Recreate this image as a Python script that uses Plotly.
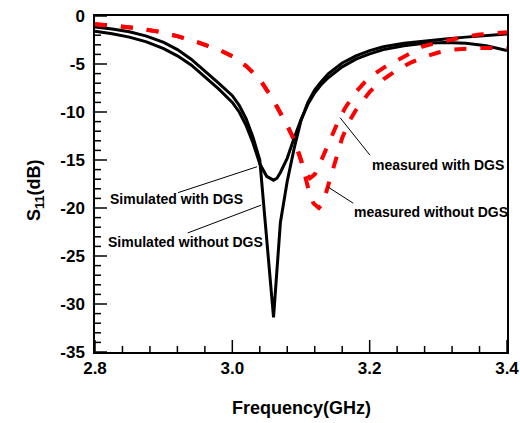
import plotly.graph_objects as go

# Simulated S11, with and without DGS (GHz, dB)
sim_dgs_f = [2.80, 2.825, 2.85, 2.875, 2.90, 2.92, 2.94, 2.96, 2.98, 3.00, 3.01, 3.02, 3.03, 3.04,
             3.05, 3.06, 3.065, 3.07, 3.08, 3.09, 3.10, 3.11, 3.12, 3.13, 3.14, 3.16, 3.18, 3.20,
             3.22, 3.25, 3.28, 3.31, 3.34, 3.37, 3.40]
sim_dgs_db = [-1.6, -1.85, -2.2, -2.7, -3.4, -4.15, -5.1, -6.3, -7.6, -9.0, -10.0, -11.4, -13.2, -15.4,
              -16.7, -17.1, -16.9, -16.3, -14.8, -12.7, -10.8, -9.2, -8.0, -7.1, -6.4, -5.3, -4.5, -3.95,
              -3.5, -3.1, -2.85, -2.75, -2.85, -3.1, -3.6]

sim_nodgs_f = [2.80, 2.825, 2.85, 2.875, 2.90, 2.92, 2.94, 2.96, 2.98, 3.00, 3.01, 3.02, 3.03, 3.04,
               3.05, 3.06, 3.07, 3.08, 3.09, 3.10, 3.11, 3.12, 3.13, 3.14, 3.16, 3.18, 3.20, 3.22,
               3.25, 3.28, 3.31, 3.34, 3.37, 3.40]
sim_nodgs_db = [-1.15, -1.35, -1.65, -2.1, -2.75, -3.5, -4.5, -5.7, -7.0, -8.3, -9.3, -10.7, -12.6, -15.0,
                -23.0, -31.4, -21.5, -17.2, -13.8, -10.9, -9.0, -7.7, -6.8, -6.0, -4.9, -4.15, -3.6, -3.2,
                -2.85, -2.6, -2.4, -2.2, -2.02, -1.88]

# Measured S11, with and without DGS (GHz, dB)
meas_nodgs_f = [2.80, 2.83, 2.86, 2.89, 2.92, 2.95, 2.98, 3.00, 3.02, 3.04, 3.06, 3.08, 3.09, 3.10,
                3.11, 3.118, 3.126, 3.132, 3.14, 3.15, 3.16, 3.17, 3.18, 3.20, 3.22, 3.24, 3.26, 3.28,
                3.30, 3.32, 3.34, 3.36, 3.38, 3.40]
meas_nodgs_db = [-0.85, -1.0, -1.25, -1.6, -2.1, -2.75, -3.5, -4.2, -5.2, -6.6, -8.8, -11.4, -12.9, -15.0,
                 -17.8, -19.5, -20.0, -19.5, -17.6, -15.0, -12.7, -11.0, -9.8, -7.9, -6.6, -5.6, -4.85, -4.25,
                 -3.8, -3.5, -3.38, -3.33, -3.32, -3.35]

meas_dgs_f = [2.80, 2.83, 2.86, 2.89, 2.92, 2.95, 2.98, 3.00, 3.02, 3.04, 3.06, 3.08, 3.09, 3.10,
              3.106, 3.113, 3.12, 3.128, 3.136, 3.144, 3.154, 3.164, 3.18, 3.198, 3.22, 3.238, 3.26,
              3.278, 3.30, 3.32, 3.34, 3.36, 3.38, 3.40]
meas_dgs_db = [-0.85, -1.0, -1.25, -1.6, -2.1, -2.75, -3.5, -4.2, -5.2, -6.6, -8.8, -11.4, -12.9, -15.0,
               -16.3, -16.9, -16.5, -15.3, -13.9, -12.6, -11.0, -9.6, -7.9, -6.5, -5.4, -4.7, -3.85,
               -3.15, -2.75, -2.4, -2.15, -1.93, -1.8, -1.7]

y_ticks = [-35, -30, -25, -20, -15, -10, -5, 0]
y_labels = ["-35", "-30", "-25", "-20", "-15", "-10", "-5", "0"]
x_ticks = [2.8, 3.0, 3.2, 3.4]
x_labels = ["2.8", "3.0", "3.2", "3.4"]
x_minor_step = 0.04
y_minor_step = 1

FONT = "Liberation Sans, Arial, sans-serif"
NBSP = "\u00a0"

W, H = 520, 423
M_L, M_R, M_T, M_B = 95, 13, 16, 71
X_RANGE = [x_ticks[0], x_ticks[-1]]
Y_RANGE = [y_ticks[0], y_ticks[-1]]
MAJOR_LEN, MINOR_LEN = 12, 6  # tick lengths in px

# pixel -> data unit conversion for the tick-mark lengths
gx_per_px = (X_RANGE[1] - X_RANGE[0]) / (W - M_L - M_R)
db_per_px = (Y_RANGE[1] - Y_RANGE[0]) / (H - M_T - M_B)

fig = go.Figure()

# Inward tick marks on the bottom and left frame edges (major + minor)
tick_x, tick_y = [], []
n_x = int(round((X_RANGE[1] - X_RANGE[0]) / x_minor_step))
for i in range(n_x + 1):
    xv = X_RANGE[0] + i * x_minor_step
    major = any(abs(xv - m) < 1e-9 for m in x_ticks)
    ln = (MAJOR_LEN if major else MINOR_LEN) * db_per_px
    tick_x += [xv, xv, None]
    tick_y += [Y_RANGE[0], Y_RANGE[0] + ln, None]
for yv in range(Y_RANGE[0], Y_RANGE[1] + 1, y_minor_step):
    major = yv in y_ticks
    ln = (MAJOR_LEN if major else MINOR_LEN) * gx_per_px
    tick_x += [X_RANGE[0], X_RANGE[0] + ln, None]
    tick_y += [yv, yv, None]
fig.add_trace(go.Scatter(x=tick_x, y=tick_y, mode="lines", hoverinfo="skip",
                         line=dict(color="black", width=1.5), name="ticks"))

fig.add_trace(go.Scatter(x=sim_dgs_f, y=sim_dgs_db, mode="lines",
                         line=dict(color="black", width=3), name="Simulated with DGS"))
fig.add_trace(go.Scatter(x=sim_nodgs_f, y=sim_nodgs_db, mode="lines",
                         line=dict(color="black", width=3), name="Simulated without DGS"))
fig.add_trace(go.Scatter(x=meas_dgs_f, y=meas_dgs_db, mode="lines",
                         line=dict(color="#ff0000", width=4, dash="12px,14px"), name="measured with DGS"))
fig.add_trace(go.Scatter(x=meas_nodgs_f, y=meas_nodgs_db, mode="lines",
                         line=dict(color="#ff0000", width=4, dash="12px,14px"), name="measured without DGS"))

# Curve labels with thin leader lines
labels = [
    ("Simulated with DGS", 2.918, -19.1, (2.921, -18.4), (3.036, -15.7)),
    ("Simulated without DGS", 2.932, -23.5, (2.935, -22.6), (3.042, -19.7)),
    ("measured with DGS", 3.3, -15.5, (3.2005, -14.5), (3.157, -10.6)),
    ("measured without DGS", 3.289, -20.4, (3.176, -19.5), (3.139, -17.8)),
]
for text, tx, ty, p0, p1 in labels:
    fig.add_annotation(x=tx, y=ty, text=f"<b>{text}</b>", showarrow=False,
                       xanchor="center", yanchor="middle",
                       font=dict(family=FONT, size=14, color="black"))
    fig.add_shape(type="line", x0=p0[0], y0=p0[1], x1=p1[0], y1=p1[1],
                  line=dict(color="black", width=1))

# Axis titles
fig.add_annotation(x=0.5, y=-0.1667, xref="paper", yref="paper", showarrow=False,
                   text="<b>Frequency(GHz)</b>", xanchor="center", yanchor="middle",
                   font=dict(family=FONT, size=18, color="black"))
fig.add_annotation(x=-0.146, y=0.482, xref="paper", yref="paper", showarrow=False,
                   text="<b>S<sub>11</sub>(dB)</b>", textangle=-90,
                   xanchor="center", yanchor="middle",
                   font=dict(family=FONT, size=18, color="black"))

fig.update_layout(
    width=W, height=H,
    margin=dict(l=M_L, r=M_R, t=M_T, b=M_B, autoexpand=False),
    paper_bgcolor="white", plot_bgcolor="white",
    showlegend=False,
    font=dict(family=FONT, size=17, color="black"),
)
fig.update_xaxes(
    range=X_RANGE, tickmode="array", tickvals=x_ticks,
    ticktext=[f"<b>{t}</b>" for t in x_labels],
    ticks="", showline=True, linewidth=2, linecolor="black", mirror=True,
    showgrid=False, zeroline=False, automargin=False,
)
fig.update_yaxes(
    range=Y_RANGE, tickmode="array", tickvals=y_ticks,
    ticktext=[f"<b>{t}</b>{NBSP}" for t in y_labels],
    ticks="", showline=True, linewidth=2, linecolor="black", mirror=True,
    showgrid=False, zeroline=False, automargin=False,
)

fig.write_html("out.html")
